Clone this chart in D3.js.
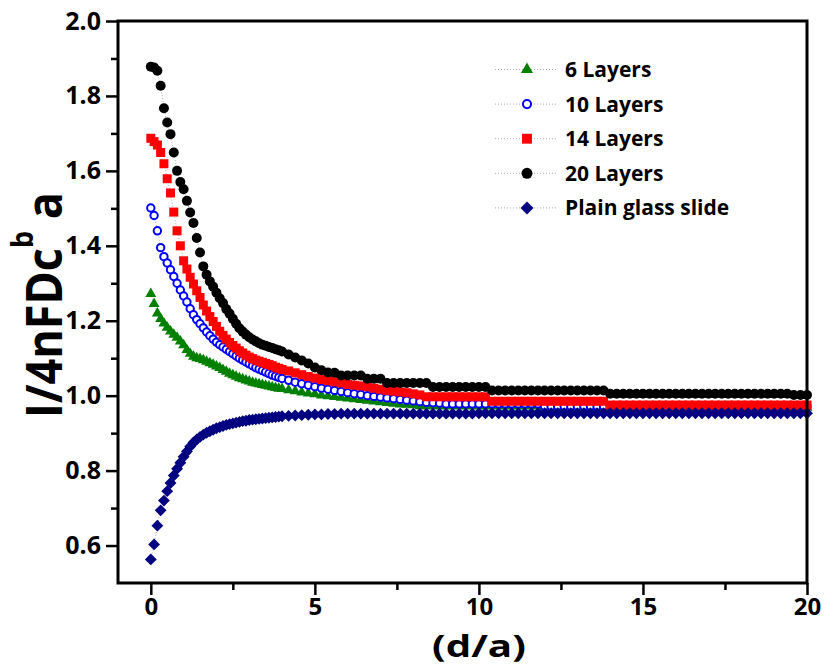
<!DOCTYPE html>
<html><head><meta charset="utf-8">
<script src="https://cdn.jsdelivr.net/npm/d3@7"></script>
<style>body{margin:0;background:#fff;} svg{display:block;}</style>
</head><body>
<svg id="chart" width="824" height="667"></svg>
<script>
// ---------- DATA ----------
const dOverA = [0,0.1,0.2,0.3,0.4,0.5,0.6,0.7,0.8,0.9,
 1,1.1,1.2,1.3,1.4,1.5,1.6,1.7,1.8,1.9,
 2,2.1,2.2,2.3,2.4,2.5,2.6,2.7,2.8,2.9,
 3,3.1,3.2,3.3,3.4,3.5,3.6,3.7,3.8,3.9,
 4,4.2,4.4,4.6,4.8,5,5.2,5.4,5.6,5.8,
 6,6.2,6.4,6.6,6.8,7,7.2,7.4,7.6,7.8,
 8,8.2,8.4,8.6,8.8,9,9.2,9.4,9.6,9.8,
 10,10.2,10.4,10.6,10.8,11,11.2,11.4,11.6,11.8,
 12,12.2,12.4,12.6,12.8,13,13.2,13.4,13.6,13.8,
 14,14.2,14.4,14.6,14.8,15,15.2,15.4,15.6,15.8,
 16,16.2,16.4,16.6,16.8,17,17.2,17.4,17.6,17.8,
 18,18.2,18.4,18.6,18.8,19,19.2,19.4,19.6,19.8,
 20];

const layers6 = [1.272,1.245,1.220,1.205,1.193,1.182,1.172,1.163,1.155,1.145,
 1.135,1.122,1.112,1.104,1.100,1.098,1.095,1.091,1.087,1.083,
 1.078,1.074,1.069,1.064,1.059,1.055,1.051,1.047,1.044,1.041,
 1.038,1.035,1.033,1.031,1.029,1.027,1.025,1.023,1.021,1.019,
 1.018,1.015,1.012,1.009,1.006,1.004,1.001,0.999,0.997,0.995,
 0.993,0.991,0.989,0.987,0.985,0.983,0.981,0.979,0.977,0.976,
 0.975,0.972,0.972,0.972,0.972,0.972,0.972,0.972,0.972,0.972,
 0.972,0.972,0.972,0.972,0.972,0.972,0.972,0.972,0.972,0.972,
 0.968,0.968,0.968,0.968,0.968,0.968,0.968,0.968,0.968,0.968,
 0.968,0.968,0.968,0.968,0.968,0.968,0.968,0.968,0.968,0.968,
 0.968,0.968,0.968,0.968,0.968,0.968,0.968,0.968,0.968,0.968,
 0.968,0.968,0.968,0.968,0.968,0.968,0.968,0.968,0.968,0.968,
 0.968];

const layers10 = [1.501,1.481,1.440,1.395,1.371,1.354,1.336,1.318,1.300,1.282,
 1.266,1.250,1.232,1.216,1.203,1.192,1.181,1.170,1.160,1.151,
 1.143,1.136,1.130,1.124,1.118,1.112,1.106,1.100,1.095,1.090,
 1.085,1.080,1.075,1.071,1.067,1.063,1.059,1.055,1.052,1.049,
 1.046,1.041,1.036,1.032,1.028,1.024,1.020,1.017,1.014,1.011,
 1.008,1.005,1.003,1.000,0.998,0.996,0.994,0.992,0.990,0.988,
 0.986,0.984,0.982,0.981,0.980,0.978,0.978,0.978,0.978,0.978,
 0.978,0.978,0.978,0.978,0.978,0.978,0.978,0.978,0.978,0.978,
 0.972,0.972,0.972,0.972,0.972,0.972,0.972,0.972,0.972,0.972,
 0.972,0.972,0.972,0.972,0.972,0.972,0.972,0.972,0.972,0.972,
 0.972,0.972,0.972,0.972,0.972,0.972,0.972,0.972,0.972,0.972,
 0.972,0.972,0.972,0.972,0.972,0.972,0.972,0.972,0.972,0.972,
 0.972];

const layers14 = [1.687,1.678,1.669,1.649,1.619,1.579,1.541,1.490,1.440,1.400,
 1.360,1.338,1.316,1.298,1.280,1.262,1.242,1.226,1.211,1.198,
 1.185,1.172,1.161,1.151,1.142,1.134,1.127,1.120,1.114,1.108,
 1.103,1.099,1.095,1.092,1.089,1.086,1.083,1.080,1.076,1.073,
 1.070,1.066,1.061,1.056,1.051,1.047,1.043,1.040,1.037,1.034,
 1.030,1.028,1.026,1.024,1.020,1.017,1.014,1.012,1.010,1.008,
 1.005,1.002,0.997,0.997,0.997,0.997,0.997,0.997,0.997,0.997,
 0.997,0.997,0.985,0.985,0.985,0.985,0.985,0.985,0.985,0.985,
 0.985,0.985,0.985,0.985,0.985,0.985,0.985,0.985,0.985,0.985,
 0.975,0.975,0.975,0.975,0.975,0.975,0.975,0.975,0.975,0.975,
 0.975,0.975,0.975,0.975,0.975,0.975,0.975,0.975,0.975,0.975,
 0.975,0.975,0.975,0.975,0.975,0.975,0.975,0.975,0.975,0.975,
 0.975];

const layers20 = [1.878,1.876,1.867,1.827,1.767,1.729,1.698,1.649,1.600,1.570,
 1.551,1.520,1.489,1.461,1.421,1.382,1.345,1.323,1.305,1.291,
 1.275,1.260,1.247,1.231,1.219,1.205,1.192,1.180,1.171,1.163,
 1.156,1.150,1.145,1.140,1.136,1.133,1.130,1.127,1.124,1.121,
 1.118,1.110,1.102,1.094,1.086,1.075,1.068,1.062,1.061,1.054,
 1.054,1.054,1.054,1.045,1.045,1.045,1.034,1.034,1.034,1.034,
 1.034,1.034,1.034,1.023,1.023,1.023,1.023,1.023,1.023,1.023,
 1.023,1.023,1.014,1.014,1.014,1.014,1.014,1.014,1.014,1.014,
 1.014,1.014,1.014,1.014,1.014,1.014,1.014,1.014,1.014,1.014,
 1.005,1.005,1.005,1.005,1.005,1.005,1.005,1.005,1.005,1.005,
 1.005,1.005,1.005,1.005,1.005,1.005,1.005,1.005,1.005,1.005,
 1.005,1.005,1.005,1.005,1.005,1.005,1.005,1.005,1.002,1.002,
 1.002];

const plainGlass = [0.563,0.603,0.653,0.694,0.720,0.745,0.767,0.787,0.805,0.821,
 0.837,0.851,0.864,0.875,0.883,0.890,0.896,0.901,0.905,0.909,
 0.913,0.916,0.919,0.922,0.924,0.926,0.928,0.930,0.932,0.933,
 0.935,0.936,0.937,0.938,0.939,0.940,0.941,0.942,0.943,0.944,
 0.945,0.946,0.947,0.948,0.949,0.950,0.950,0.951,0.951,0.952,
 0.952,0.952,0.952,0.952,0.952,0.952,0.952,0.952,0.952,0.952,
 0.952,0.952,0.952,0.952,0.952,0.952,0.952,0.952,0.952,0.952,
 0.953,0.953,0.953,0.953,0.953,0.953,0.953,0.953,0.953,0.953,
 0.953,0.953,0.953,0.953,0.953,0.953,0.953,0.953,0.953,0.953,
 0.953,0.953,0.953,0.953,0.953,0.953,0.953,0.953,0.953,0.953,
 0.953,0.953,0.953,0.953,0.953,0.953,0.953,0.953,0.953,0.953,
 0.953,0.953,0.953,0.953,0.953,0.953,0.953,0.953,0.953,0.953,
 0.953];

const seriesNames = ["6 Layers","10 Layers","14 Layers","20 Layers","Plain glass slide"];
const xTicks = [0,5,10,15,20];
const xMinorTicks = [2.5,7.5,12.5,17.5];
const yTicks = [0.6,0.8,1.0,1.2,1.4,1.6,1.8,2.0];
const yMinorTicks = [0.7,0.9,1.1,1.3,1.5,1.7,1.9];
const xTitle = "(d/a)";

// ---------- STYLE ----------
const styles = [
  {color:"#008000", shape:"triangle"},
  {color:"#0000ff", shape:"open"},
  {color:"#ff0000", shape:"square"},
  {color:"#000000", shape:"circle"},
  {color:"#000080", shape:"diamond"}
];
const seriesData = [layers6, layers10, layers14, layers20, plainGlass];

const svg = d3.select("#chart");
const X0 = 118, X1 = 807, Y0 = 583, Y1 = 21;
const x = d3.scaleLinear().domain([-1,20]).range([X0,X1]);
const y = d3.scaleLinear().domain([0.5,2.0]).range([Y0,Y1]);
const tickFont = "'Open Sans', sans-serif";

function marker(sel, shape, color, scale){
  scale = scale || 1;
  if(shape==="circle"){
    sel.append("circle").attr("r",5*scale).attr("fill",color);
  } else if(shape==="open"){
    sel.append("circle").attr("r",3.7*scale).attr("fill","#fff").attr("stroke",color).attr("stroke-width",2);
  } else if(shape==="square"){
    sel.append("path").attr("d",d3.symbol(d3.symbolSquare, 81*scale*scale)()).attr("fill",color);
  } else if(shape==="triangle"){
    sel.append("path").attr("d",d3.symbol(d3.symbolTriangle, 52*scale*scale)()).attr("fill",color);
  } else if(shape==="diamond"){
    sel.append("path").attr("d",d3.symbol(d3.symbolSquare, 70*scale*scale)()).attr("transform","rotate(45)").attr("fill",color);
  }
}

// series
const line = d3.line().x(d=>x(d[0])).y(d=>y(d[1]));
seriesData.forEach((vals,i)=>{
  const pts = dOverA.map((d,j)=>[d, vals[j]]);
  const g = svg.append("g").attr("class","series");
  g.append("path").attr("d",line(pts)).attr("fill","none")
    .attr("stroke","#aaa").attr("stroke-width",1).attr("stroke-dasharray","1,2");
  g.selectAll("g.pt").data(pts).join("g").attr("class","pt")
    .attr("transform",d=>`translate(${x(d[0])},${y(d[1])})`)
    .each(function(){ marker(d3.select(this), styles[i].shape, styles[i].color); });
});

// axes
function styleAxis(g){
  g.select(".domain").remove();
  g.selectAll(".tick line").attr("stroke","#000").attr("stroke-width",2.5);
  g.selectAll(".tick text").attr("fill","#000").attr("font-family",tickFont)
    .attr("font-weight","bold").attr("font-size","24px");
}
svg.append("g").attr("transform",`translate(0,${Y0})`)
  .call(d3.axisBottom(x).tickValues(xMinorTicks).tickSize(7).tickFormat(""))
  .call(styleAxis);
svg.append("g").attr("transform",`translate(0,${Y0})`)
  .call(d3.axisBottom(x).tickValues(xTicks).tickSize(12).tickPadding(3).tickFormat(d3.format("d")))
  .call(styleAxis);
svg.append("g").attr("transform",`translate(${X0},0)`)
  .call(d3.axisLeft(y).tickValues(yMinorTicks).tickSize(7).tickFormat(""))
  .call(styleAxis);
const yAxisG = svg.append("g").attr("transform",`translate(${X0},0)`)
  .call(d3.axisLeft(y).tickValues(yTicks).tickSize(12).tickPadding(5).tickFormat(d3.format(".1f")))
  .call(styleAxis);
yAxisG.selectAll(".tick text").attr("font-size","25px");

svg.append("rect").attr("x",X0).attr("y",Y1).attr("width",X1-X0).attr("height",Y0-Y1)
  .attr("fill","none").attr("stroke","#000").attr("stroke-width",3);

// titles
svg.append("text").attr("transform",`translate(${x(10)},657) scale(1.3,1)`).attr("text-anchor","middle")
  .attr("font-family",tickFont).attr("font-weight","bold").attr("font-size","31px").text(xTitle);

const yt = svg.append("text").attr("transform","translate(62,305) scale(1.1,1) rotate(-90)")
  .attr("text-anchor","middle").attr("font-family",tickFont).attr("font-weight","bold").attr("font-size","45px");
yt.append("tspan").text("I/4nFDc");
yt.append("tspan").attr("dy",-26).attr("font-size","27px").text("b");
yt.append("tspan").attr("dy",26).text(" a");

// legend
const lg = svg.append("g");
seriesNames.forEach((name,i)=>{
  const ly = 69.5 + i*34.6;
  lg.append("line").attr("x1",495).attr("x2",558).attr("y1",ly).attr("y2",ly)
    .attr("stroke","#aaa").attr("stroke-width",1).attr("stroke-dasharray","1,2");
  const m = lg.append("g").attr("transform",`translate(527,${ly})`);
  marker(m, styles[i].shape, styles[i].color, 1.1);
  lg.append("text").attr("x",565).attr("y",ly).attr("dy","0.36em")
    .attr("font-family",tickFont).attr("font-weight","bold").attr("font-size","21px").text(name);
});
</script>
</body></html>
